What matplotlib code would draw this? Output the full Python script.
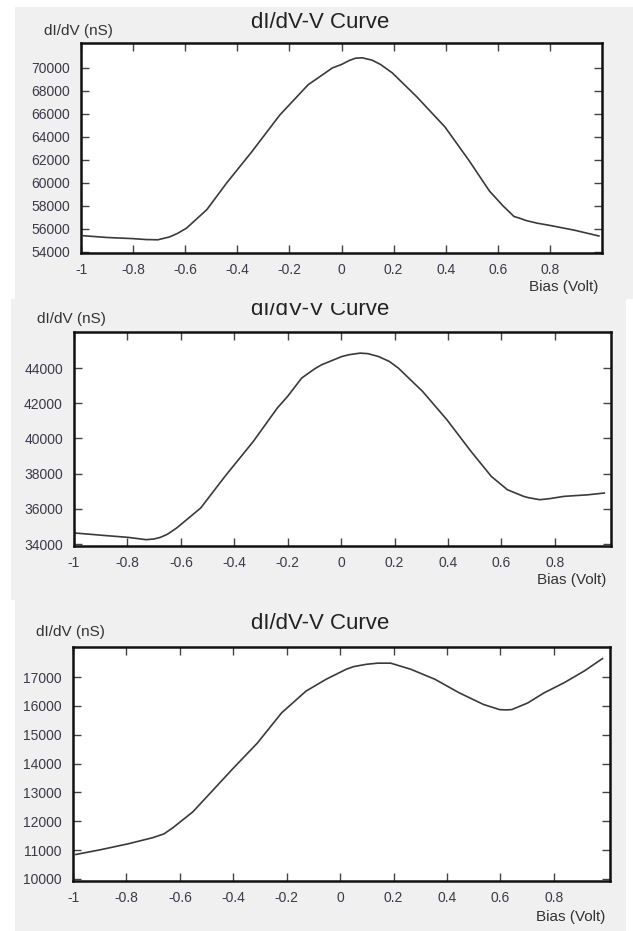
import matplotlib
matplotlib.use('Agg')
import matplotlib.pyplot as plt
from matplotlib.patches import Rectangle
from matplotlib.transforms import Bbox, TransformedBbox

plt.rcParams['font.family'] = ['Liberation Sans', 'DejaVu Sans']
plt.rcParams['axes.unicode_minus'] = False

# ---- data ----
bias_1 = [-0.99, -0.9, -0.8, -0.75, -0.705, -0.66, -0.63, -0.595, -0.517, -0.44,
          -0.346, -0.237, -0.128, -0.035, 0.0, 0.03, 0.054, 0.08, 0.117, 0.15,
          0.195, 0.288, 0.397, 0.49, 0.568, 0.62, 0.662, 0.69, 0.708, 0.75,
          0.802, 0.895, 0.988]
didv_1 = [55400, 55250, 55150, 55070, 55050, 55300, 55600, 56060, 57670, 60020,
          62660, 65900, 68540, 70000, 70300, 70650, 70850, 70880, 70680, 70300,
          69570, 67510, 64870, 61930, 59290, 58000, 57080, 56880, 56730, 56500,
          56290, 55880, 55380]

bias_2 = [-0.994, -0.888, -0.797, -0.73, -0.7, -0.677, -0.65, -0.616, -0.526, -0.435,
          -0.329, -0.239, -0.2, -0.148, -0.1, -0.073, 0.003, 0.03, 0.071, 0.1,
          0.139, 0.18, 0.214, 0.305, 0.396, 0.486, 0.562, 0.622, 0.683, 0.7,
          0.743, 0.78, 0.834, 0.924, 0.985]
didv_2 = [34625, 34490, 34380, 34250, 34290, 34380, 34560, 34910, 36045, 37845,
          39830, 41730, 42400, 43430, 43950, 44190, 44660, 44760, 44850, 44820,
          44660, 44380, 44000, 42670, 41060, 39265, 37845, 37090, 36710, 36640,
          36520, 36580, 36710, 36800, 36900]

bias_3 = [-0.989, -0.899, -0.793, -0.702, -0.66, -0.627, -0.551, -0.476, -0.4, -0.31,
          -0.219, -0.128, -0.053, 0.023, 0.05, 0.098, 0.14, 0.189, 0.264, 0.355,
          0.446, 0.536, 0.597, 0.62, 0.642, 0.702, 0.763, 0.838, 0.914, 0.982]
didv_3 = [10850, 11010, 11220, 11430, 11560, 11770, 12330, 13080, 13840, 14710,
          15760, 16510, 16920, 17270, 17360, 17440, 17480, 17480, 17270, 16920,
          16450, 16050, 15870, 15860, 15870, 16100, 16450, 16800, 17210, 17640]

x_ticks = [-1, -0.8, -0.6, -0.4, -0.2, 0, 0.2, 0.4, 0.6, 0.8]
x_tick_labels = ['-1', '-0.8', '-0.6', '-0.4', '-0.2', '0', '0.2', '0.4', '0.6', '0.8']
y_ticks_1 = [54000, 56000, 58000, 60000, 62000, 64000, 66000, 68000, 70000]
y_ticks_2 = [34000, 36000, 38000, 40000, 42000, 44000]
y_ticks_3 = [10000, 11000, 12000, 13000, 14000, 15000, 16000, 17000]

title = 'dI/dV-V Curve'
y_label = 'dI/dV (nS)'
x_label = 'Bias (Volt)'

W, H = 633, 931
fig = plt.figure(figsize=(W / 100, H / 100), dpi=100)
fig.patch.set_facecolor('white')


def fx(px):
    return px / W


def fy(py):
    return 1 - py / H


def add_panel(bg, box, bias, didv, yticks, ylim, xlim, title_base, ylab_xy, xlab_xy,
              clip_top=None):
    # gray screenshot background
    l, t, r, b = bg
    fig.add_artist(Rectangle((fx(l), fy(b)), fx(r - l), (b - t) / H,
                             transform=fig.transFigure, facecolor='#f0f0f0',
                             edgecolor='none', zorder=0))
    l, t, r, b = box
    ax = fig.add_axes([fx(l), fy(b), fx(r - l), (b - t) / H])
    ax.plot(bias, didv, color='#3a3a3a', lw=1.2)
    ax.set_xlim(*xlim)
    ax.set_ylim(*ylim)
    ax.set_xticks(x_ticks, x_tick_labels)
    ax.set_yticks(yticks, [str(v) for v in yticks])
    ax.tick_params(direction='in', top=True, right=True, length=6, width=1,
                   color='#444444', labelcolor='#3a3a4a', labelsize=10)
    ax.tick_params(axis='x', pad=7)
    ax.tick_params(axis='y', pad=8)
    for s in ax.spines.values():
        s.set_linewidth(1.8)
        s.set_color('#111111')
    txt = fig.text(fx(320), fy(title_base), title, ha='center', va='baseline',
                   fontsize=16, color='#222222')
    if clip_top is not None:
        # the upper screenshot hides the top of this title
        clip = TransformedBbox(Bbox([[0, 0], [1, fy(clip_top)]]), fig.transFigure)
        txt.set_clip_box(clip)
        txt.set_clip_on(True)
    fig.text(fx(ylab_xy[0]), fy(ylab_xy[1]), y_label, ha='left', va='center',
             fontsize=11, color='#333333')
    fig.text(fx(xlab_xy[0]), fy(xlab_xy[1]), x_label, ha='right', va='center',
             fontsize=11, color='#333333')
    return ax


add_panel((15, 7, 633, 299), (81, 43, 602, 253), bias_1, didv_1, y_ticks_1,
          (53900, 72170), (-1, 1.0), 28, (44, 31), (598, 287))
add_panel((11, 299, 626, 600), (74, 332, 611, 546), bias_2, didv_2, y_ticks_2,
          (33890, 46050), (-1, 1.01), 315, (37, 319), (606, 580), clip_top=303)
add_panel((15, 600, 626, 931), (73, 647, 610, 881), bias_3, didv_3, y_ticks_3,
          (9930, 18040), (-1, 1.01), 629, (36, 632), (605, 917))

fig.savefig('out.png', dpi=100)
